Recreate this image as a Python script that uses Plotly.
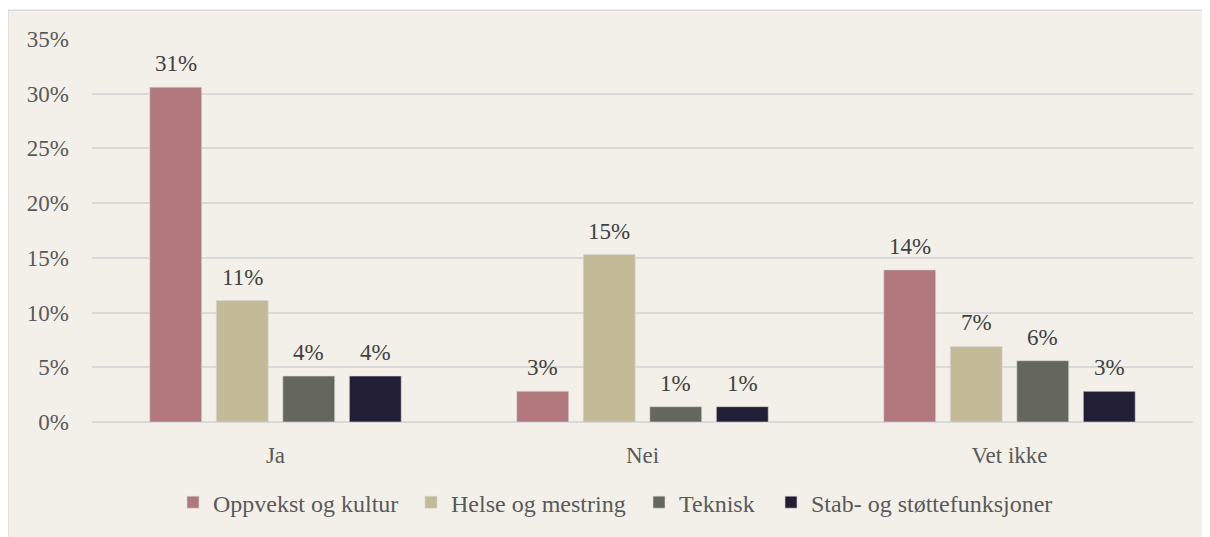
import plotly.graph_objects as go

categories = ["Ja", "Nei", "Vet ikke"]
series_names = ["Oppvekst og kultur", "Helse og mestring", "Teknisk", "Stab- og støttefunksjoner"]
oppvekst = [30.6, 2.8, 13.9]
helse = [11.1, 15.3, 6.9]
teknisk = [4.2, 1.4, 5.6]
stab = [4.2, 1.4, 2.8]
series_values = [oppvekst, helse, teknisk, stab]
colors = ["#B0787C", "#C3BB98", "#66675C", "#221E35"]
legend_widths = [193, 183, 87, 250]
y_ticks = [0, 5, 10, 15, 20, 25, 30, 35]
y_tick_labels = [f"{t}%" for t in y_ticks]

FONT = "Liberation Serif"
OFF = 8  # page body margin
W, H = 1210 - OFF, 537 - OFF
ML, MR, MT, MB = 92 - OFF, 17, 39 - OFF, 113
BARGAP = 0.275
BARGROUPGAP = 0.22

fig = go.Figure()
for name, vals, col, lw in zip(series_names, series_values, colors, legend_widths):
    fig.add_trace(go.Bar(
        x=categories, y=vals, name=name, legendwidth=lw,
        marker=dict(color=col, line=dict(color="rgba(215,215,215,0.8)", width=0.75)),
        hoverinfo="skip",
    ))

n = len(series_names)
slot = (1 - BARGAP) / n
annotations = []
for i, vals in enumerate(series_values):
    for j, v in enumerate(vals):
        annotations.append(dict(
            x=j + (i - (n - 1) / 2) * slot, y=v, xref="x", yref="y",
            text=f"{round(v)}%", showarrow=False, yanchor="bottom", yshift=9,
            font=dict(family=FONT, size=23, color="#404040"),
        ))

pw = W - ML - MR
ph = H - MT - MB
shapes = [dict(
    type="rect", xref="paper", yref="paper", layer="below",
    x0=(0 - ML) / pw, x1=(W + 5 - ML) / pw,
    y0=-(H + 5 - MT - ph) / ph, y1=(ph + MT - (10 - OFF)) / ph,
    fillcolor="#F3F0EA", line=dict(color="#D9D9D9", width=1.5),
)]

fig.update_layout(
    width=W, height=H,
    margin=dict(l=ML, r=MR, t=MT, b=MB),
    paper_bgcolor="white", plot_bgcolor="rgba(0,0,0,0)",
    barmode="group", bargap=BARGAP, bargroupgap=BARGROUPGAP,
    font=dict(family=FONT, size=23, color="#595959"),
    showlegend=True,
    legend=dict(orientation="h", x=(173 - 92) / pw, xanchor="left",
                y=-(505 - 39 - ph) / ph, yanchor="middle",
                font=dict(family=FONT, size=24, color="#595959"),
                bgcolor="rgba(0,0,0,0)", itemclick=False, itemdoubleclick=False),
    annotations=annotations,
    shapes=shapes,
)
fig.update_yaxes(range=[0, 35], tickvals=y_ticks, ticktext=y_tick_labels,
                 showgrid=True, gridcolor="#D9D9D9", gridwidth=1.5,
                 zeroline=True, zerolinecolor="#D9D9D9", zerolinewidth=1.5,
                 showline=False, ticks="", ticklabelstandoff=22,
                 tickfont=dict(family=FONT, size=23, color="#595959"))
fig.update_xaxes(showgrid=False, showline=False, ticks="", ticklabelstandoff=17,
                 tickfont=dict(family=FONT, size=23, color="#595959"))

fig.write_html("out.html")
